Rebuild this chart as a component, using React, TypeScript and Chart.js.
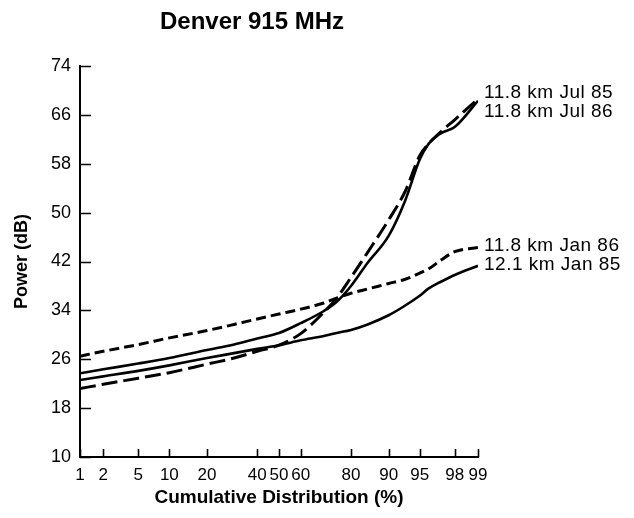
import React, { useEffect, useRef } from "react";
import { Chart, registerables, LinearScale } from "chart.js";

Chart.register(...registerables);

// ---------- data ----------
const TITLE = "Denver 915 MHz";
const X_TITLE = "Cumulative Distribution (%)";
const Y_TITLE = "Power (dB)";
const X_TICKS = [1, 2, 5, 10, 20, 40, 50, 60, 80, 90, 95, 98, 99];
const Y_MIN = 10;
const Y_MAX = 74;
const Y_STEP = 8;

const PCT = [1, 2, 5, 10, 20, 30, 40, 50, 60, 70, 75, 80, 85, 90, 93, 95, 96, 97, 98, 99];
const JUL85 = [21.2, 21.9, 22.9, 23.8, 25.2, 26.2, 27.3, 28.3, 30.2, 33.7, 36.0, 39.4, 43.5, 48.8, 53.5, 59.3, 61.3, 63.1, 65.2, 68.6];
const JUL86 = [23.7, 24.35, 25.3, 26.2, 27.5, 28.4, 29.4, 30.3, 31.9, 33.9, 35.4, 38.0, 41.8, 46.2, 52.0, 58.7, 61.3, 62.9, 64.0, 68.3];
const JAN86 = [26.5, 27.3, 28.4, 29.5, 30.7, 31.7, 32.6, 33.4, 34.2, 35.2, 36.0, 36.8, 37.5, 38.4, 39.1, 40.1, 40.8, 42.1, 43.6, 44.3];
const JAN85 = [22.6, 23.2, 24.1, 25.0, 26.2, 27.0, 27.7, 28.3, 29.1, 29.8, 30.3, 30.8, 31.7, 33.2, 34.8, 36.4, 37.6, 38.6, 39.8, 41.3];

const SERIES_LABELS = ["11.8 km Jul 85", "11.8 km Jul 86", "11.8 km Jan 86", "12.1 km Jan 85"];
const SERIES_VALUES = [JUL85, JUL86, JAN86, JAN85];

// ---------- styles ----------
const FONT = "'Liberation Sans', Arial, Helvetica, sans-serif";
const SERIES_DASH = [[16, 6], [], [10, 5], []];
const SERIES_WIDTH = [3, 2.6, 3, 2.6];
const LABEL_DY = [-6, 11, -2, -1];

// inverse normal CDF (Acklam)
function probit(p: number): number {
  const a = [-3.969683028665376e1, 2.209460984245205e2, -2.759285104469687e2, 1.38357751867269e2, -3.066479806614716e1, 2.506628277459239];
  const b = [-5.447609879822406e1, 1.615858368580409e2, -1.556989798598866e2, 6.680131188771972e1, -1.328068155288572e1];
  const c = [-7.784894002430293e-3, -3.223964580411365e-1, -2.400758277161838, -2.549732539343734, 4.374664141464968, 2.938163982698783];
  const d = [7.784695709041462e-3, 3.224671290700398e-1, 2.445134137142996, 3.754408661907416];
  const pl = 0.02425;
  let q: number, r: number;
  if (p < pl) {
    q = Math.sqrt(-2 * Math.log(p));
    return (((((c[0] * q + c[1]) * q + c[2]) * q + c[3]) * q + c[4]) * q + c[5]) / ((((d[0] * q + d[1]) * q + d[2]) * q + d[3]) * q + 1);
  }
  if (p <= 1 - pl) {
    q = p - 0.5;
    r = q * q;
    return ((((((a[0] * r + a[1]) * r + a[2]) * r + a[3]) * r + a[4]) * r + a[5]) * q) / (((((b[0] * r + b[1]) * r + b[2]) * r + b[3]) * r + b[4]) * r + 1);
  }
  q = Math.sqrt(-2 * Math.log(1 - p));
  return -(((((c[0] * q + c[1]) * q + c[2]) * q + c[3]) * q + c[4]) * q + c[5]) / ((((d[0] * q + d[1]) * q + d[2]) * q + d[3]) * q + 1);
}

class ProbitScale extends (LinearScale as any) {
  static id = "probit";
  static defaults = (LinearScale as any).defaults;
  buildTicks() {
    return X_TICKS.map((v) => ({ value: v }));
  }
  getPixelForValue(value: number) {
    const z0 = probit(this.min / 100);
    const z1 = probit(this.max / 100);
    return this.getPixelForDecimal((probit(value / 100) - z0) / (z1 - z0));
  }
  getValueForPixel(pixel: number) {
    const dec = this.getDecimalForPixel(pixel);
    const z0 = probit(this.min / 100);
    const z1 = probit(this.max / 100);
    const z = z0 + dec * (z1 - z0);
    let lo = 1e-6, hi = 1 - 1e-6;
    for (let i = 0; i < 60; i++) {
      const mid = (lo + hi) / 2;
      if (probit(mid) < z) lo = mid; else hi = mid;
    }
    return lo * 100;
  }
}
Chart.register(ProbitScale as any);

const innerTicks = {
  id: "innerTicks",
  afterDraw(chart: any) {
    const { ctx, chartArea, scales } = chart;
    ctx.save();
    ctx.strokeStyle = "#000";
    ctx.lineWidth = 1.6;
    ctx.beginPath();
    scales.y.ticks.forEach((t: any, i: number) => {
      const py = Math.round(scales.y.getPixelForTick(i)) + 0.5;
      ctx.moveTo(chartArea.left, py);
      ctx.lineTo(chartArea.left + 11, py);
    });
    scales.x.ticks.forEach((t: any, i: number) => {
      const px = Math.round(scales.x.getPixelForTick(i)) + 0.5;
      ctx.moveTo(px, chartArea.bottom);
      ctx.lineTo(px, chartArea.bottom - 8);
    });
    ctx.stroke();
    ctx.restore();
  },
};

const endLabels = {
  id: "endLabels",
  afterDatasetsDraw(chart: any) {
    const { ctx, chartArea, scales } = chart;
    ctx.save();
    ctx.fillStyle = "#000";
    ctx.font = `19px ${FONT}`;
    (ctx as any).letterSpacing = "0.5px";
    ctx.textAlign = "left";
    ctx.textBaseline = "middle";
    SERIES_VALUES.forEach((vals, i) => {
      const y = scales.y.getPixelForValue(vals[vals.length - 1]) + LABEL_DY[i];
      ctx.fillText(SERIES_LABELS[i], chartArea.right + 6, y);
    });
    ctx.restore();
  },
};

const mainTitle = {
  id: "mainTitle",
  afterDraw(chart: any) {
    const { ctx } = chart;
    ctx.save();
    ctx.fillStyle = "#000";
    ctx.font = `bold 24px ${FONT}`;
    ctx.textAlign = "center";
    ctx.textBaseline = "middle";
    ctx.fillText(TITLE, 252, 22);
    ctx.restore();
  },
};

export default function App() {
  const ref = useRef<HTMLCanvasElement | null>(null);
  useEffect(() => {
    if (!ref.current) return;
    const chart = new Chart(ref.current, {
      type: "line",
      data: {
        datasets: SERIES_VALUES.map((vals, i) => ({
          label: SERIES_LABELS[i],
          data: PCT.map((p, j) => ({ x: p, y: vals[j] })),
          borderColor: "#000",
          borderWidth: SERIES_WIDTH[i],
          borderDash: SERIES_DASH[i],
          pointRadius: 0,
          fill: false,
          cubicInterpolationMode: "monotone" as const,
        })),
      },
      options: {
        animation: false,
        responsive: false,
        devicePixelRatio: 1,
        layout: { padding: { top: 66, right: 156, left: 0, bottom: 0 } },
        plugins: {
          legend: { display: false },
          title: { display: false },
          tooltip: { enabled: false },
        },
        scales: {
          x: {
            type: "probit" as any,
            min: 1,
            max: 99,
            grid: { display: false, drawTicks: false },
            border: { display: true, color: "#000", width: 2 },
            ticks: {
              autoSkip: false,
              maxRotation: 0,
              minRotation: 0,
              padding: 8,
              color: "#000",
              font: { family: FONT, size: 17 },
              callback: (v: any) => String(v),
            },
            title: {
              display: true,
              text: X_TITLE,
              color: "#000",
              font: { family: FONT, size: 19, weight: "bold" },
              padding: { top: 0, bottom: 9 },
            },
            afterFit: (s: any) => { s.height = 61; },
          } as any,
          y: {
            min: Y_MIN,
            max: Y_MAX,
            grid: { display: false, drawTicks: false },
            border: { display: true, color: "#000", width: 2 },
            ticks: {
              stepSize: Y_STEP,
              padding: 9,
              color: "#000",
              font: { family: FONT, size: 18 },
            },
            title: {
              display: true,
              text: Y_TITLE,
              color: "#000",
              font: { family: FONT, size: 18, weight: "bold" },
              padding: { top: 11, bottom: 0 },
            },
            afterFit: (s: any) => { s.width = 80; },
          },
        },
      },
      plugins: [innerTicks, endLabels, mainTitle],
    });
    return () => chart.destroy();
  }, []);
  return (
    <div style={{ position: "absolute", left: 0, top: 0, width: 634, height: 518, background: "#fff" }}>
      <canvas ref={ref} width={634} height={518} style={{ display: "block" }} />
    </div>
  );
}
